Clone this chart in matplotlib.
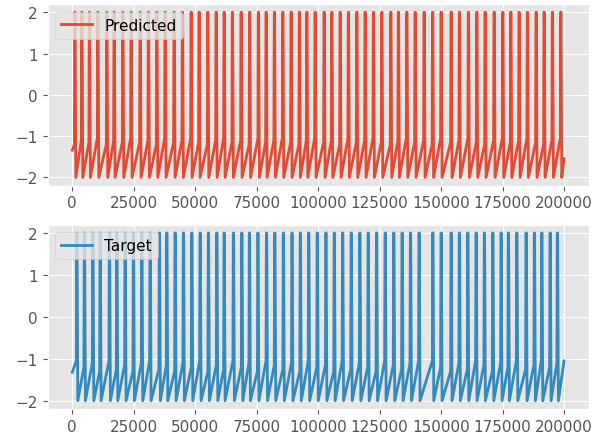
import numpy as np
import matplotlib
matplotlib.use("Agg")
import matplotlib.pyplot as plt

plt.style.use("ggplot")

# ---------------- data ----------------
pred_spike_t = [1000, 3820, 6910, 10330, 13990, 16960, 20500, 23870, 27530, 30910,
                34330, 37700, 41360, 44740, 48280, 51530, 55070, 58450, 61700, 65070,
                68610, 72070, 75650, 78780, 82150, 85570, 88950, 92320, 95330, 98700,
                102370, 105500, 108880, 112250, 115670, 119040, 122420, 125830, 129490, 132580,
                136000, 139380, 143040, 146500, 149950, 154020, 157400, 161050, 164470, 167850,
                171510, 175040, 178300, 181670, 185050, 188590, 191840, 195220, 198630]
pred_pre_level = [-1.20, -1.10, -1.15, -1.05, -1.20, -1.10, -1.15, -1.05, -1.15, -1.10,
                  -1.20, -1.05, -1.15, -1.10, -1.05, -1.15, -1.20, -1.10, -1.05, -1.15,
                  -1.10, -1.20, -1.05, -1.15, -1.10, -1.05, -1.15, -1.20, -1.10, -1.05,
                  -1.15, -1.10, -1.20, -1.05, -1.15, -1.10, -1.05, -1.15, -1.20, -1.10,
                  -1.05, -1.15, -1.10, -1.20, -1.05, -1.15, -1.10, -1.05, -1.15, -1.20,
                  -1.10, -1.05, -1.15, -1.10, -1.05, -1.15, -1.20, -1.10, -1.05]
pred_start, pred_end = -1.34, -1.55

targ_spike_t = [1790, 4880, 8300, 11270, 15050, 18060, 21430, 24810, 28220, 31600,
                35380, 38390, 41770, 45140, 48560, 51940, 55310, 58730, 61700, 65480,
                68900, 71990, 75440, 78950, 82300, 85790, 89300, 92690, 96100, 99590,
                103100, 106490, 109900, 113390, 116900, 120290, 123700, 127190, 130700, 134090,
                137500, 140990, 146580, 149950, 154020, 157390, 160810, 164180, 167560, 170980,
                174350, 177320, 180740, 184520, 187900, 190910, 194290, 197250]
targ_pre_level = [-1.05, -1.20, -1.10, -1.30, -1.05, -1.25, -1.15, -1.30, -1.10, -1.05,
                  -1.25, -1.15, -1.30, -1.10, -1.20, -1.05, -1.30, -1.15, -1.25, -1.05,
                  -1.20, -1.10, -1.30, -1.05, -1.15, -1.25, -1.10, -1.30, -1.05, -1.20,
                  -1.15, -1.30, -1.05, -1.25, -1.10, -1.20, -1.30, -1.05, -1.15, -1.25,
                  -1.10, -1.05, -1.05, -1.20, -1.30, -1.10, -1.25, -1.05, -1.15, -1.30,
                  -1.10, -1.20, -1.05, -1.25, -1.15, -1.05, -1.20, -1.10]
targ_start, targ_end = -1.32, -1.05

spike_peak = 2.0
spike_trough = -2.0
t_end = 200000
x_ticks = [0, 25000, 50000, 75000, 100000, 125000, 150000, 175000, 200000]
y_ticks = [-2, -1, 0, 1, 2]


def build_trace(spikes, pre, start, end):
    t = [0.0]
    v = [start]
    for k, ts in enumerate(spikes):
        t += [ts - 150, ts, ts + 150, ts + 450]
        v += [pre[k], spike_peak, spike_peak, spike_trough]
    t.append(t_end)
    v.append(end)
    return np.array(t), np.array(v)


pt, pv = build_trace(pred_spike_t, pred_pre_level, pred_start, pred_end)
tt, tv = build_trace(targ_spike_t, targ_pre_level, targ_start, targ_end)

fig = plt.figure(figsize=(6.06, 4.39), dpi=100)
ax1 = fig.add_axes([0.0787, 0.5747, 0.8926, 0.4139])
ax2 = fig.add_axes([0.0787, 0.0658, 0.8926, 0.4203])

ax1.plot(pt, pv, color="#E24A33", lw=2.0, label="Predicted")
ax2.plot(tt, tv, color="#348ABD", lw=2.0, label="Target")

for ax in (ax1, ax2):
    ax.set_xticks(x_ticks)
    ax.set_yticks(y_ticks)
    ax.set_xlim(-10000, 210000)
    ax.set_ylim(-2.2, 2.2)
    ax.tick_params(labelsize=11)
    ax.legend(loc="upper left", fontsize=11)

fig.savefig("out.png", dpi=100)
